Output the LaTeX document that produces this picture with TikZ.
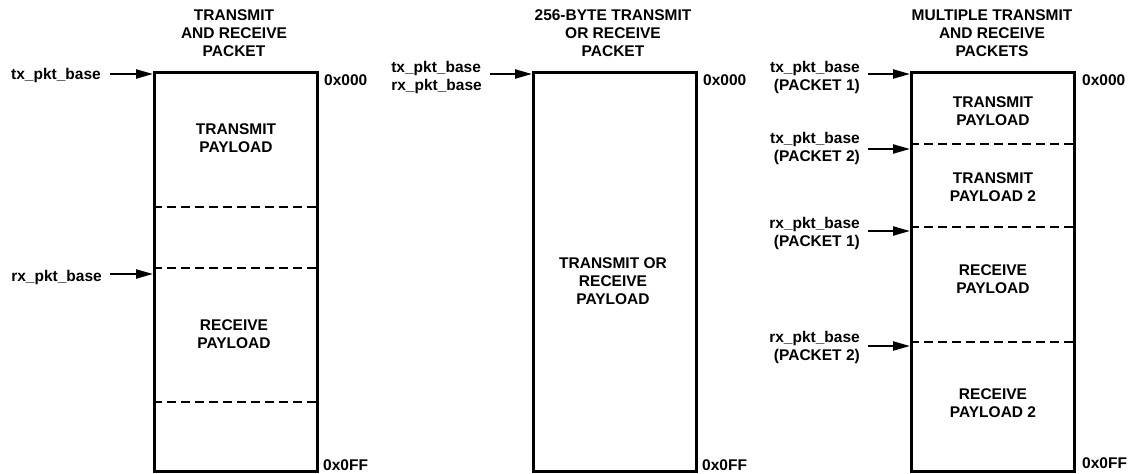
\documentclass[tikz,border=0pt]{standalone}
\usepackage{fontspec}
\setmainfont{Liberation Sans}
\usetikzlibrary{arrows.meta}
\begin{document}
\begin{tikzpicture}[x=1pt,y=-1pt,
  every node/.style={font=\bfseries\fontsize{15.5}{18}\selectfont, inner sep=0pt},
  membox/.style={draw, line width=3pt, minimum width=163pt, minimum height=399pt, anchor=north west},
  divider/.style={line width=2.2pt, dash pattern=on 9pt off 5pt},
  ptr/.style={line width=2.2pt, -{Triangle[length=17pt,width=9pt]}},
  txt/.style={align=center},
  lbl/.style={align=right, anchor=east},
  addr/.style={anchor=west}]
\useasboundingbox (0,0) rectangle (1133,474);

% ---------- Box 1 ----------
\node[membox] (B1) at (153,71) {};
\node[txt] (T1) at (234,33) {TRANSMIT\\AND RECEIVE\\PACKET};
\draw[divider] (153,207) -- (316,207);
\draw[divider] (153,268) -- (316,268);
\draw[divider] (153,402) -- (316,402);
\node[txt] (P11) at (236,138) {TRANSMIT\\PAYLOAD};
\node[txt] (P12) at (234,334) {RECEIVE\\PAYLOAD};
\node[addr] (A10) at (324,80) {0x000};
\node[addr] (A1F) at (323,465) {0x0FF};
\node[lbl] (L11) at (101,75) {tx\_pkt\_base};
\node[lbl] (L12) at (102,277) {rx\_pkt\_base};
\coordinate (s11) at (110,74);  \coordinate (e11) at (153,74);
\coordinate (s12) at (110,274); \coordinate (e12) at (153,274);
\draw[ptr] (s11) -- (e11);
\draw[ptr] (s12) -- (e12);

% ---------- Box 2 ----------
\node[membox] (B2) at (532,71) {};
\node[txt] (T2) at (613,33) {256-BYTE TRANSMIT\\OR RECEIVE\\PACKET};
\node[txt] (P21) at (613,281) {TRANSMIT OR\\RECEIVE\\PAYLOAD};
\node[addr] (A20) at (703,80) {0x000};
\node[addr] (A2F) at (702,465) {0x0FF};
\node[anchor=east, align=left] (L21) at (482,77) {tx\_pkt\_base\\rx\_pkt\_base};
\coordinate (s21) at (490,74); \coordinate (e21) at (532,74);
\draw[ptr] (s21) -- (e21);

% ---------- Box 3 ----------
\node[membox] (B3) at (910,71) {};
\node[txt] (T3) at (992,33) {MULTIPLE TRANSMIT\\AND RECEIVE\\PACKETS};
\draw[divider] (910,144) -- (1073,144);
\draw[divider] (910,227) -- (1073,227);
\draw[divider] (910,342) -- (1073,342);
\node[txt] (P31) at (993,111) {TRANSMIT\\PAYLOAD};
\node[txt] (P32) at (993,187) {TRANSMIT\\PAYLOAD 2};
\node[txt] (P33) at (993,279) {RECEIVE\\PAYLOAD};
\node[txt] (P34) at (993,403) {RECEIVE\\PAYLOAD 2};
\node[addr] (A30) at (1082,80) {0x000};
\node[addr] (A3F) at (1082,463) {0x0FF};
\node[lbl] (L31) at (860,77) {tx\_pkt\_base\\(PACKET 1)};
\node[lbl] (L32) at (860,148) {tx\_pkt\_base\\(PACKET 2)};
\node[lbl] (L33) at (860,233) {rx\_pkt\_base\\(PACKET 1)};
\node[lbl] (L34) at (860,347) {rx\_pkt\_base\\(PACKET 2)};
\coordinate (s31) at (868,74);  \coordinate (e31) at (910,74);
\coordinate (s32) at (868,149); \coordinate (e32) at (910,149);
\coordinate (s33) at (868,231); \coordinate (e33) at (910,231);
\coordinate (s34) at (868,346); \coordinate (e34) at (910,346);
\draw[ptr] (s31) -- (e31);
\draw[ptr] (s32) -- (e32);
\draw[ptr] (s33) -- (e33);
\draw[ptr] (s34) -- (e34);
\end{tikzpicture}
\end{document}
